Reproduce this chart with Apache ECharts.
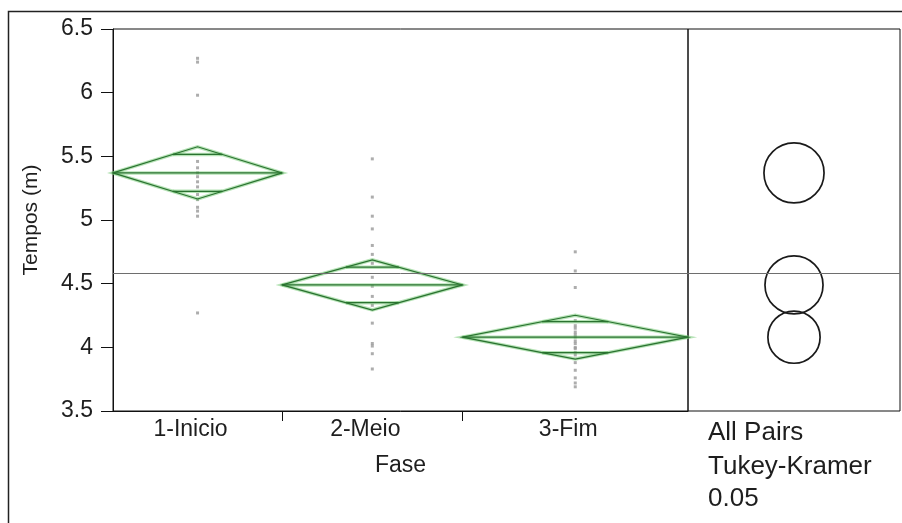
<!DOCTYPE html>
<html>
<head>
<meta charset="utf-8">
<script src="https://cdn.jsdelivr.net/npm/echarts@6/dist/echarts.min.js"></script>
<style>
  html, body { margin: 0; padding: 0; background: #fff; }
  #chart { width: 902px; height: 523px; }
</style>
</head>
<body>
<div id="chart"></div>
<script>
// Fase groups and the number of observations in each (sets the group widths)
const phases = ['1-Inicio', '2-Meio', '3-Fim'];
const groupCounts = [15, 16, 20];

// Observed times (minutes) per phase
const temposInicio = [6.27, 6.24, 5.98, 5.46, 5.41, 5.37, 5.34, 5.30, 5.26, 5.20, 5.16, 5.10, 5.07, 5.03, 4.27];
const temposMeio = [5.48, 5.18, 5.03, 4.93, 4.80, 4.73, 4.66, 4.55, 4.48, 4.40, 4.33, 4.19, 4.03, 4.01, 3.95, 3.83];
const temposFim = [4.75, 4.60, 4.47, 4.21, 4.17, 4.15, 4.12, 4.10, 4.08, 4.05, 4.03, 4.00, 3.99, 3.96, 3.94, 3.88, 3.82, 3.76, 3.72, 3.69];

// Group means, 95% confidence half-widths (means diamonds)
const groupMeans = [5.37, 4.49, 4.08];
const meanCIHalfWidth = [0.205, 0.197, 0.172];

// Tukey-Kramer comparison circle radii (in Tempos units)
const circleRadius = [0.236, 0.228, 0.205];

// Overall mean
const grandMean = 4.58;

// Y axis ticks
const yTickMin = 3.5;
const yTickMax = 6.5;
const yTickStep = 0.5;

// Cumulative group boundaries on the x scale
const bounds = [0];
groupCounts.forEach(n => bounds.push(bounds[bounds.length - 1] + n));
const totalN = bounds[bounds.length - 1];
const centers = phases.map((_, i) => (bounds[i] + bounds[i + 1]) / 2);

const groupValues = [temposInicio, temposMeio, temposFim];
const pointData = [];
groupValues.forEach((vals, i) => vals.forEach(v => pointData.push([centers[i], v])));

const diamondData = phases.map((_, i) => [bounds[i], bounds[i + 1], groupMeans[i], meanCIHalfWidth[i]]);
const circleData = phases.map((_, i) => [0.5, groupMeans[i], circleRadius[i]]);

const FONT = '"Liberation Sans", Arial, Helvetica, sans-serif';
const TEXT = '#1e1e1e';
const DARK_GREEN = '#2a7230';
const HALO_GREEN = 'rgba(110, 200, 110, 0.5)';

function seg(a, b, style) {
  return { type: 'line', shape: { x1: a[0], y1: a[1], x2: b[0], y2: b[1] }, style: style, silent: true };
}

function renderDiamond(params, api) {
  const x0 = api.value(0), x1 = api.value(1), m = api.value(2), ci = api.value(3);
  const xm = (x0 + x1) / 2;
  const half = (x1 - x0) / 2;
  const L = api.coord([x0, m]);
  const R = api.coord([x1, m]);
  const T = api.coord([xm, m + ci]);
  const B = api.coord([xm, m - ci]);
  // overlap marks at mean +/- ci/sqrt(2)
  const ov = ci / Math.SQRT2;
  const f = half * (1 - 1 / Math.SQRT2);
  const ot1 = api.coord([xm - f, m + ov]), ot2 = api.coord([xm + f, m + ov]);
  const ob1 = api.coord([xm - f, m - ov]), ob2 = api.coord([xm + f, m - ov]);
  const children = [];
  [[HALO_GREEN, 3.5], [DARK_GREEN, 1.2]].forEach(([col, w]) => {
    const st = { stroke: col, lineWidth: w, fill: null };
    children.push({ type: 'polygon', shape: { points: [L, T, R, B] }, style: st, silent: true });
    children.push(seg(L, R, st));
    children.push(seg(ot1, ot2, st));
    children.push(seg(ob1, ob2, st));
  });
  return { type: 'group', children: children };
}

function renderCircle(params, api) {
  const c = api.coord([api.value(0), api.value(1)]);
  const r = api.size([0, api.value(2)])[1];
  return {
    type: 'circle',
    shape: { cx: c[0], cy: c[1], r: r },
    style: { stroke: '#1a1a1a', lineWidth: 1.7, fill: null },
    silent: true
  };
}

const chart = echarts.init(document.getElementById('chart'), null, { renderer: 'canvas' });

chart.setOption({
  backgroundColor: '#ffffff',
  animation: false,
  grid: [
    { left: 113, right: 214, top: 29, bottom: 112, show: true, borderColor: '#111', borderWidth: 1, backgroundColor: 'transparent' },
    { left: 688, right: 2, top: 29, bottom: 112, show: true, borderColor: '#111', borderWidth: 1, backgroundColor: 'transparent' }
  ],
  xAxis: [
    {
      gridIndex: 0, type: 'value', min: 0, max: totalN,
      name: 'Fase', nameLocation: 'middle', nameGap: 43,
      nameTextStyle: { fontFamily: FONT, fontSize: 23, color: TEXT },
      axisLine: { show: true, lineStyle: { color: '#111', width: 1 } },
      axisTick: { show: true, customValues: bounds.slice(1, -1), length: 10, inside: false, lineStyle: { color: '#111', width: 1 } },
      axisLabel: {
        show: true, customValues: centers, margin: 7,
        padding: [0, 14, 0, 0],
        formatter: v => phases[centers.indexOf(v)] || '',
        fontFamily: FONT, fontSize: 23, color: TEXT
      },
      splitLine: { show: false }
    },
    { gridIndex: 1, type: 'value', min: 0, max: 1, show: false }
  ],
  yAxis: [
    {
      gridIndex: 0, type: 'value', min: yTickMin, max: yTickMax, interval: yTickStep,
      name: 'Tempos (m)', nameLocation: 'middle', nameGap: 71, nameRotate: 90,
      nameTextStyle: { fontFamily: FONT, fontSize: 21, color: TEXT },
      axisLine: { show: true, lineStyle: { color: '#111', width: 1 } },
      axisTick: { show: true, length: 12, inside: false, lineStyle: { color: '#111', width: 1 } },
      axisLabel: { margin: 20, fontFamily: FONT, fontSize: 23, color: TEXT },
      splitLine: { show: false }
    },
    { gridIndex: 1, type: 'value', min: yTickMin, max: yTickMax, interval: yTickStep, show: false }
  ],
  series: [
    {
      type: 'scatter', xAxisIndex: 0, yAxisIndex: 0,
      data: pointData, symbol: 'rect', symbolSize: 3,
      itemStyle: { color: '#999999' }, silent: true, z: 2,
      markLine: {
        silent: true, symbol: 'none', label: { show: false },
        lineStyle: { color: '#6e6e6e', width: 1, type: 'solid' },
        data: [{ yAxis: grandMean }]
      }
    },
    {
      type: 'custom', xAxisIndex: 0, yAxisIndex: 0,
      data: diamondData, renderItem: renderDiamond, z: 3
    },
    {
      type: 'custom', xAxisIndex: 1, yAxisIndex: 1,
      data: circleData, renderItem: renderCircle, z: 3,
      markLine: {
        silent: true, symbol: 'none', label: { show: false },
        lineStyle: { color: '#6e6e6e', width: 1, type: 'solid' },
        data: [{ yAxis: grandMean }]
      }
    }
  ],
  graphic: [
    {
      type: 'polyline', silent: true,
      shape: { points: [[8.5, 523], [8.5, 11.5], [902, 11.5]] },
      style: { stroke: '#222', lineWidth: 1.5, fill: null }
    },
    { type: 'text', left: 708, top: 420, style: { text: 'All Pairs', fontFamily: FONT, fontSize: 26, fill: TEXT } },
    { type: 'text', left: 708, top: 454, style: { text: 'Tukey-Kramer', fontFamily: FONT, fontSize: 26, fill: TEXT } },
    { type: 'text', left: 708, top: 486, style: { text: '0.05', fontFamily: FONT, fontSize: 26, fill: TEXT } }
  ]
});
</script>
</body>
</html>
